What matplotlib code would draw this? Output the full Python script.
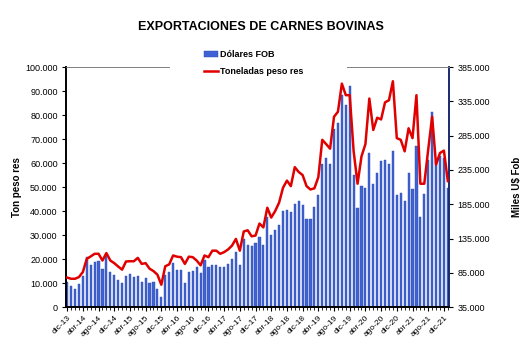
import matplotlib.pyplot as plt
import numpy as np
from matplotlib.patches import Rectangle

plt.rcParams['font.family'] = ['Liberation Sans', 'DejaVu Sans']

# meses dic-13 .. ene-22
meses = ['ene', 'feb', 'mar', 'abr', 'may', 'jun', 'jul', 'ago', 'sep', 'oct', 'nov', 'dic']
categorias = ['dic-13'] + [f'{m}-{a}' for a in range(14, 22) for m in meses] + ['ene-22']

# Toneladas peso res (eje izquierdo)
toneladas = [12300, 11800, 11800, 12500, 14600, 20100, 21100, 22200, 22200, 19400,
             22500, 19400, 18300, 16900, 15600, 19000, 19100, 19100, 20500, 18000,
             18300, 16000, 15000, 13500, 9300, 17000, 17800, 21500, 21000, 20800,
             18000, 21000, 20800, 19400, 17400, 21500, 20800, 23500, 23500, 22200,
             22900, 24000, 25600, 28400, 23500, 31500, 32000, 29500, 29800, 34800,
             33200, 41400, 37300, 40000, 43500, 49700, 52700, 50400, 58300, 56300,
             55000, 50400, 49000, 49500, 54100, 69700, 67900, 66000, 79300, 81400,
             93100, 88300, 88300, 64900, 51400, 62800, 67900, 86900, 73800, 78900,
             78200, 85300, 86200, 94100, 70400, 69700, 64900, 74500, 70400, 88300,
             51400, 51400, 65600, 79300, 59400, 64200, 65200, 52500]

# Dolares FOB, miles U$ (eje derecho)
dolares = [72000, 66000, 62000, 69000, 81000, 108000, 97000, 101000, 102000, 91000,
           112000, 86000, 82000, 75000, 70000, 81000, 83000, 79000, 81000, 72000,
           78000, 70000, 72000, 62000, 49000, 82000, 86000, 99000, 89000, 89000,
           70000, 86000, 88000, 93000, 85000, 104000, 93000, 97000, 96000, 93000,
           93000, 98000, 105000, 115000, 97000, 135000, 126000, 124000, 128000, 137000,
           125000, 167000, 140000, 147000, 155000, 175000, 177000, 174000, 186000, 189000,
           184000, 163000, 164000, 181000, 198000, 244000, 252000, 243000, 294000, 304000,
           345000, 330000, 357000, 227000, 180000, 212000, 208000, 259000, 214000, 231000,
           248000, 250000, 244000, 263000, 198000, 202000, 189000, 231000, 207000, 270000,
           167000, 200000, 250000, 319000, 248000, 255000, 253000, 208000]

def miles(v, pos=None):
    return f'{int(v):,}'.replace(',', '.')

x = np.arange(len(categorias))

fig = plt.figure(figsize=(5.32, 3.55), dpi=100)
ax = fig.add_axes([0.124, 0.135, 0.72, 0.676])
ax2 = ax.twinx()

# barras en el eje derecho
ax.bar(x, dolares, width=0.55, color='#3f63d6', edgecolor='#2c4aa8', linewidth=0.3,
       label='Dólares FOB', zorder=2)
ax.set_ylim(35000, 385000)
ax.set_yticks(np.arange(35000, 385001, 50000))
ax.yaxis.tick_right()
ax.yaxis.set_label_position('right')
ax.yaxis.set_major_formatter(plt.FuncFormatter(miles))
ax.set_ylabel('Miles U$ Fob', fontsize=7, fontweight='bold', labelpad=16)
ax.set_xlim(-0.3, len(x) - 0.7)
ax.set_xticks(x, minor=True)
ax.set_xticks(x[::4])
ax.set_xticklabels(categorias[::4], rotation=45, ha='right', rotation_mode='anchor', fontsize=6)
ax.tick_params(axis='x', which='major', length=3, pad=2)
ax.tick_params(axis='x', which='minor', length=2)
ax.tick_params(axis='y', labelsize=6.5, length=3, pad=3)

# linea en el eje izquierdo
ax2.plot(x, toneladas, color='#e00000', linewidth=1.8, label='Toneladas peso res', zorder=3)
ax2.set_ylim(0, 100000)
ax2.set_yticks(np.arange(0, 100001, 10000))
ax2.yaxis.tick_left()
ax2.yaxis.set_label_position('left')
ax2.yaxis.set_major_formatter(plt.FuncFormatter(miles))
ax2.set_ylabel('Ton peso res', fontsize=7, fontweight='bold', labelpad=2)
ax2.tick_params(axis='y', labelsize=6.5, length=3, pad=3)

for a in (ax, ax2):
    a.spines['top'].set_color('#808080')
    a.spines['top'].set_linewidth(0.6)
    a.spines['left'].set_linewidth(1.2)
    a.spines['bottom'].set_linewidth(1.2)
    a.spines['right'].set_color('#1a2a6c')
    a.spines['right'].set_linewidth(1.2)

fig.suptitle('EXPORTACIONES DE CARNES BOVINAS', x=0.49, y=0.94, fontsize=9, fontweight='bold')

# hueco blanco de la leyenda sobre el borde superior
fig.patches.append(Rectangle((170 / 532, 1 - 70 / 355), 177 / 532, 6 / 355,
                             transform=fig.transFigure, facecolor='white',
                             edgecolor='none', zorder=5))

h1, l1 = ax.get_legend_handles_labels()
h2, l2 = ax2.get_legend_handles_labels()
leg = fig.legend(h1 + h2, l1 + l2, loc='upper left', bbox_to_anchor=(0.37, 0.88),
                 prop={'weight': 'bold', 'size': 6.5}, frameon=False,
                 handlelength=1.5, handletextpad=0.3, labelspacing=0.9,
                 borderpad=0.3)
leg.set_zorder(6)

fig.savefig('out.png', dpi=100)
